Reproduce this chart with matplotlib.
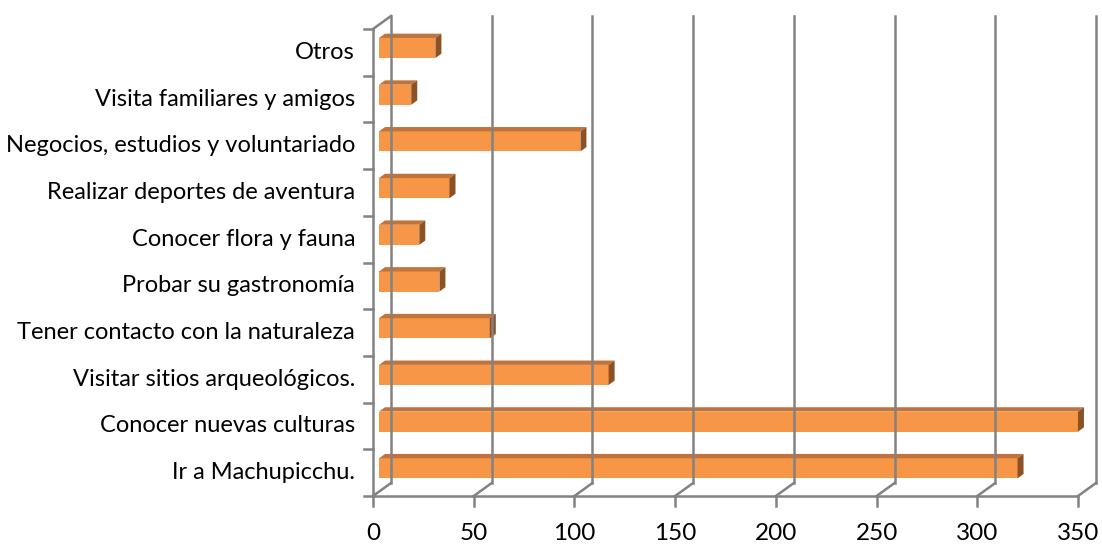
import numpy as np
import matplotlib
matplotlib.use("Agg")
import matplotlib.pyplot as plt
from matplotlib.patches import Polygon
from matplotlib.transforms import IdentityTransform

categories = [
    "Ir a Machupicchu.",
    "Conocer nuevas culturas",
    "Visitar sitios arqueológicos.",
    "Tener contacto con la naturaleza",
    "Probar su gastronomía",
    "Conocer flora y fauna",
    "Realizar deportes de aventura",
    "Negocios, estudios y voluntariado",
    "Visita familiares y amigos",
    "Otros",
]
values = [317, 347, 114, 55, 30, 20, 35, 100, 16, 28]
x_ticks = [0, 50, 100, 150, 200, 250, 300, 350]

W, H, DPI = 1102, 545, 100
fig = plt.figure(figsize=(W / DPI, H / DPI), dpi=DPI)
ax = fig.add_axes([373 / W, 49 / H, 705 / W, 467 / H])
ax.set_xlim(0, 350)
ax.set_ylim(0, len(categories))
ax.axis("off")

FONT = "Lato"
GRID = "#828282"
FRONT = "#F79646"
TOP = "#C0733A"
SIDE = "#8A5225"

# depth vector of the 3-D box in pixels (toward the back wall)
DEPTH = np.array([18.0, 13.0])


def disp(x, y, d):
    """Data point on the plane at depth d (0 = front, 1 = back wall) -> display px."""
    return ax.transData.transform((x, y)) + d * DEPTH


def line(pts, **kw):
    xs, ys = zip(*pts)
    fig.add_artist(plt.Line2D(xs, ys, transform=IdentityTransform(), **kw))


def poly(pts, color):
    fig.add_artist(Polygon(pts, closed=True, facecolor=color, edgecolor="none",
                           transform=IdentityTransform()))


ny = len(categories)
lw = 1.8

# back wall gridlines and floor diagonals
for v in x_ticks:
    line([disp(v, 0, 1), disp(v, ny, 1)], color=GRID, lw=lw)
    line([disp(v, 0, 0), disp(v, 0, 1)], color=GRID, lw=lw)
# front vertical axis with its top diagonal
line([disp(0, 0, 0), disp(0, ny, 0)], color=GRID, lw=lw)
line([disp(0, ny, 0), disp(0, ny, 1)], color=GRID, lw=lw)
# front horizontal axis
line([disp(0, 0, 0), disp(350, 0, 0)], color=GRID, lw=lw)

# tick marks
for i in range(ny + 1):
    p = disp(0, i, 0)
    line([p, p - np.array([9, 0])], color=GRID, lw=lw)
for v in x_ticks:
    p = disp(v, 0, 0)
    line([p, p - np.array([0, 10])], color=GRID, lw=lw)

# bars
d0, d1 = 6 / 18, 12 / 18
half = 0.215
for i, v in enumerate(values):
    yc = i + 0.5
    yb, yt = yc - half, yc + half
    poly([disp(0, yb, d0), disp(v, yb, d0), disp(v, yt, d0), disp(0, yt, d0)], FRONT)
    poly([disp(0, yt, d0), disp(v, yt, d0), disp(v, yt, d1), disp(0, yt, d1)], TOP)
    poly([disp(v, yb, d0), disp(v, yb, d1), disp(v, yt, d1), disp(v, yt, d0)], SIDE)

# labels
for i, name in enumerate(categories):
    x, y = disp(0, i + 0.5, 0)
    fig.text((x - 18) / W, y / H, name, ha="right", va="center",
             fontsize=17, family=FONT, color="black")
for v in x_ticks:
    x, y = disp(v, 0, 0)
    fig.text(x / W, (y - 37) / H, str(v), ha="center", va="center",
             fontsize=17.5, family=FONT, color="black")

fig.savefig("out.png", dpi=DPI)
